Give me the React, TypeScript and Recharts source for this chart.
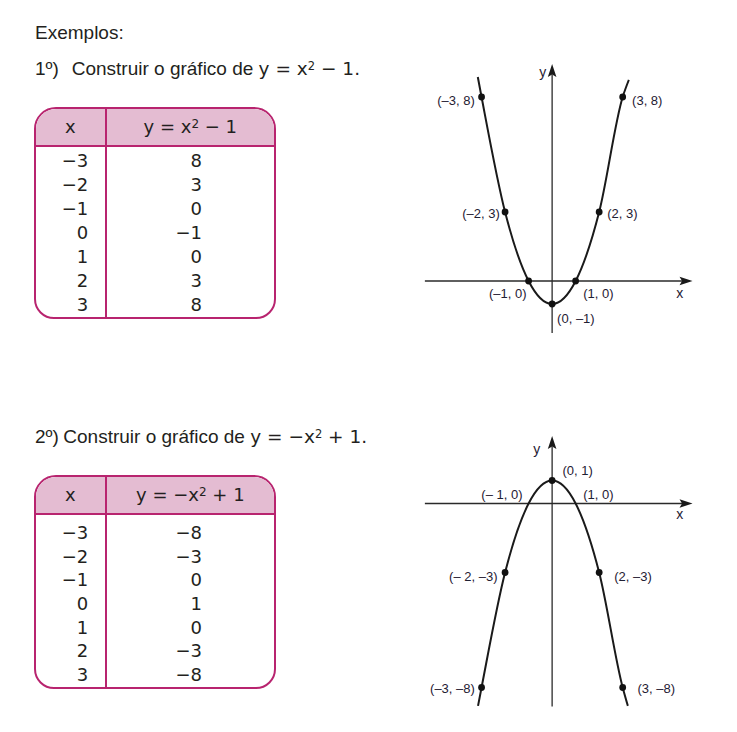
import React from 'react';
import { ComposedChart, Line, Scatter, XAxis, YAxis, ReferenceLine } from 'recharts';

// ---------- data ----------
const xValues = [-3, -2, -1, 0, 1, 2, 3];
const yValues1 = [8, 3, 0, -1, 0, 3, 8];
const yValues2 = [-8, -3, 0, 1, 0, -3, -8];

const pointLabels1 = ['(–3, 8)', '(–2, 3)', '(–1, 0)', '(0, –1)', '(1, 0)', '(2, 3)', '(3, 8)'];
const pointLabels2 = ['(–3, –8)', '(– 2, –3)', '(– 1, 0)', '(0, 1)', '(1, 0)', '(2, –3)', '(3, –8)'];

// drawn curves: the table points plus the ends of the drawn curve
const curveX1 = [-3.16, -3, -2, -1, 0, 1, 2, 3, 3.26];
const curveY1 = [8.87, 8, 3, 0, -1, 0, 3, 8, 8.74];
const curveX2 = [-3.15, -3, -2, -1, 0, 1, 2, 3, 3.22];
const curveY2 = [-8.8, -8, -3, 0, 1, 0, -3, -8, -8.8];

// axis extents and domains
const xAxisExtent = [-5.41, 5.97];
const yAxisExtent1 = [-2.26, 9.43];
const yAxisExtent2 = [-8.83, 2.93];
const xDomain = [-6, 6.5];
const yDomain1 = [-3, 10];
const yDomain2 = [-9.5, 3.5];

// texts
const introText = 'Exemplos:';
const title1Parts = ['1º)', 'Construir o gráfico de', 'y = x² − 1.'];
const title2Parts = ['2º)', 'Construir o gráfico de', 'y = −x² + 1.'];
const tableHeadX = 'x';
const tableHeadY1 = 'y = x² − 1';
const tableHeadY2 = 'y = −x² + 1';
const axisLetterX = 'x';
const axisLetterY = 'y';

// ---------- styles ----------
const INK = '#231f20';
const LABEL_INK = '#1f2033';
const BORDER = '#b8246f';
const HEAD_FILL = '#e4bcd2';

const labelStyles1 = [
  { dx: -6.7, dy: 7.5, anchor: 'end' },
  { dx: -5.3, dy: 5.5, anchor: 'end' },
  { dx: -2.1, dy: 16.5, anchor: 'end' },
  { dx: 5, dy: 18.5, anchor: 'start' },
  { dx: 7.5, dy: 16.5, anchor: 'start' },
  { dx: 8, dy: 5.5, anchor: 'start' },
  { dx: 9.4, dy: 7.5, anchor: 'start' },
];
const labelStyles2 = [
  { dx: -6.7, dy: 5, anchor: 'end' },
  { dx: -7.6, dy: 8, anchor: 'end' },
  { dx: -6.1, dy: -5, anchor: 'end' },
  { dx: 10.4, dy: -5.5, anchor: 'start' },
  { dx: 7.5, dy: -5, anchor: 'start' },
  { dx: 15, dy: 8, anchor: 'start' },
  { dx: 14.8, dy: 5, anchor: 'start' },
];
const hiddenDots1: number[] = [];
const hiddenDots2 = [2, 4];

const fmt = (v: number) => String(v).replace('-', '−');

const points1 = xValues.map((x, i) => ({ x, y: yValues1[i], label: pointLabels1[i], i }));
const points2 = xValues.map((x, i) => ({ x, y: yValues2[i], label: pointLabels2[i], i }));
const curve1 = curveX1.map((x, i) => ({ x, y: curveY1[i] }));
const curve2 = curveX2.map((x, i) => ({ x, y: curveY2[i] }));

const makeAxisShape = (letter: string, ldx: number, ldy: number) => (p: any) => {
  const { x1, y1, x2, y2 } = p;
  if ([x1, y1, x2, y2].some((v) => typeof v !== 'number' || isNaN(v))) return <g />;
  const ang = Math.atan2(y2 - y1, x2 - x1);
  const L = 13, W = 4.3, N = 2.5;
  const c = Math.cos(ang), s = Math.sin(ang);
  const pt = (a: number, b: number) => `${x2 + a * c - b * s},${y2 + a * s + b * c}`;
  const d = `M${pt(0, 0)} L${pt(-L, W)} L${pt(-L + N, 0)} L${pt(-L, -W)} Z`;
  return (
    <g>
      <line x1={x1} y1={y1} x2={x2 - (L - N) * c} y2={y2 - (L - N) * s} stroke="#2a2a2a" strokeWidth={1.3} />
      <path d={d} fill="#1a1a1a" />
      <text x={x2 + ldx} y={y2 + ldy} textAnchor="middle" fontSize={14}
        fontFamily='"Liberation Sans", Arial, sans-serif' fill={LABEL_INK}>{letter}</text>
    </g>
  );
};

const makePointShape = (styles: any[], hidden: number[]) => (p: any) => {
  const { cx, cy, payload } = p;
  const i = payload.i;
  const st = styles[i];
  return (
    <g>
      {!hidden.includes(i) && <circle cx={cx} cy={cy} r={3.4} fill="#111" />}
      <text x={cx + st.dx} y={cy + st.dy} textAnchor={st.anchor} fontSize={13}
        fontFamily='"Liberation Sans", Arial, sans-serif' fill={LABEL_INK}>{payload.label}</text>
    </g>
  );
};

function ParabolaChart(props: any) {
  const { points, curve, yDomain, yExtent, styles, hidden, xLetter, yLetter } = props;
  return (
    <ComposedChart width={294} height={299} margin={{ top: 0, right: 0, bottom: 0, left: 0 }}>
      <XAxis type="number" dataKey="x" domain={xDomain} hide allowDataOverflow />
      <YAxis type="number" domain={yDomain} hide allowDataOverflow />
      <ReferenceLine
        segment={[{ x: xAxisExtent[0], y: 0 }, { x: xAxisExtent[1], y: 0 }]}
        ifOverflow="visible"
        shape={makeAxisShape(axisLetterX, xLetter[0], xLetter[1])}
      />
      <ReferenceLine
        segment={[{ x: 0, y: yExtent[0] }, { x: 0, y: yExtent[1] }]}
        ifOverflow="visible"
        shape={makeAxisShape(axisLetterY, yLetter[0], yLetter[1])}
      />
      <Line data={curve} dataKey="y" type="monotone" stroke="#1a1a1a" strokeWidth={2}
        dot={false} activeDot={false} isAnimationActive={false} />
      <Scatter data={points} dataKey="y" shape={makePointShape(styles, hidden)} isAnimationActive={false} />
    </ComposedChart>
  );
}

const renderSupHtml = (str: string) => {
  const [a, b] = str.split('²');
  return (
    <>
      {a}
      <span style={{ fontSize: 12, position: 'relative', top: -5 }}>2</span>
      {b}
    </>
  );
};

function DataTable(props: any) {
  const { top, height, padTop, rowH, head, ys } = props;
  const col1W = 68.7;
  return (
    <div style={{
      position: 'absolute', left: 34, top, width: 242, height, boxSizing: 'border-box',
      border: `2px solid ${BORDER}`, borderRadius: '22px 22px 20px 20px', overflow: 'hidden',
      fontFamily: '"DejaVu Sans", sans-serif', fontSize: 18, color: INK, whiteSpace: 'pre',
    }}>
      <div style={{ display: 'flex', height: 36, background: HEAD_FILL, borderBottom: `2px solid ${BORDER}` }}>
        <div style={{ width: col1W, textAlign: 'center', lineHeight: '36px' }}>{tableHeadX}</div>
        <div style={{ width: 2 }} />
        <div style={{ flex: 1, textAlign: 'center', lineHeight: '36px' }}>{renderSupHtml(head)}</div>
      </div>
      <div style={{ display: 'flex', paddingTop: padTop }}>
        <div style={{ width: col1W, boxSizing: 'border-box', paddingRight: 16.5, textAlign: 'right' }}>
          {xValues.map((v, i) => <div key={i} style={{ height: rowH, lineHeight: `${rowH}px` }}>{fmt(v)}</div>)}
        </div>
        <div style={{ width: 2 }} />
        <div style={{ flex: 1, boxSizing: 'border-box', paddingRight: 72, textAlign: 'right' }}>
          {ys.map((v: number, i: number) => <div key={i} style={{ height: rowH, lineHeight: `${rowH}px` }}>{fmt(v)}</div>)}
        </div>
      </div>
      <div style={{ position: 'absolute', left: col1W, top: 0, bottom: 0, width: 2, background: BORDER }} />
    </div>
  );
}

function Title(props: any) {
  const { y, parts, x2 } = props;
  const [m1, m2] = parts[2].split('²');
  return (
    <text y={y} fontSize={19} fill={INK} fontFamily='"Liberation Sans", Arial, sans-serif' style={{ whiteSpace: 'pre' }}>
      <tspan x={35}>{parts[0]}</tspan>
      <tspan x={x2}>{parts[1] + ' '}</tspan>
      <tspan fontFamily='"DejaVu Sans", sans-serif' fontSize={18.5}>{m1}</tspan>
      <tspan dy={-5.5} fontSize={11.5} fontFamily='"DejaVu Sans", sans-serif'>2</tspan>
      <tspan dy={5.5} fontFamily='"DejaVu Sans", sans-serif' fontSize={18.5}>{m2}</tspan>
    </text>
  );
}

export default function App() {
  return (
    <div style={{
      position: 'absolute', left: 0, top: 0, width: 737, height: 732, background: '#fff', overflow: 'hidden',
      fontFamily: '"Liberation Sans", Arial, sans-serif', color: INK,
    }}>
      <svg width={737} height={732} style={{ position: 'absolute', left: 0, top: 0 }}>
        <text x={35} y={39} fontSize={19} fill={INK} fontFamily='"Liberation Sans", Arial, sans-serif'>{introText}</text>
        <Title y={75} parts={title1Parts} x2={71.7} />
        <Title y={443} parts={title2Parts} x2={63.3} />
      </svg>
      <DataTable top={107} height={212} padTop={2} rowH={24} head={tableHeadY1} ys={yValues1} />
      <DataTable top={475} height={214} padTop={6} rowH={23.7} head={tableHeadY2} ys={yValues2} />
      <div style={{ position: 'absolute', left: 411, top: 51 }}>
        <ParabolaChart points={points1} curve={curve1} yDomain={yDomain1} yExtent={yAxisExtent1}
          styles={labelStyles1} hidden={hiddenDots1} xLetter={[-12.7, 17.3]} yLetter={[-9.3, 13]} />
      </div>
      <div style={{ position: 'absolute', left: 411, top: 423 }}>
        <ParabolaChart points={points2} curve={curve2} yDomain={yDomain2} yExtent={yAxisExtent2}
          styles={labelStyles2} hidden={hiddenDots2} xLetter={[-12.7, 15.5]} yLetter={[-15.3, 17.5]} />
      </div>
    </div>
  );
}
